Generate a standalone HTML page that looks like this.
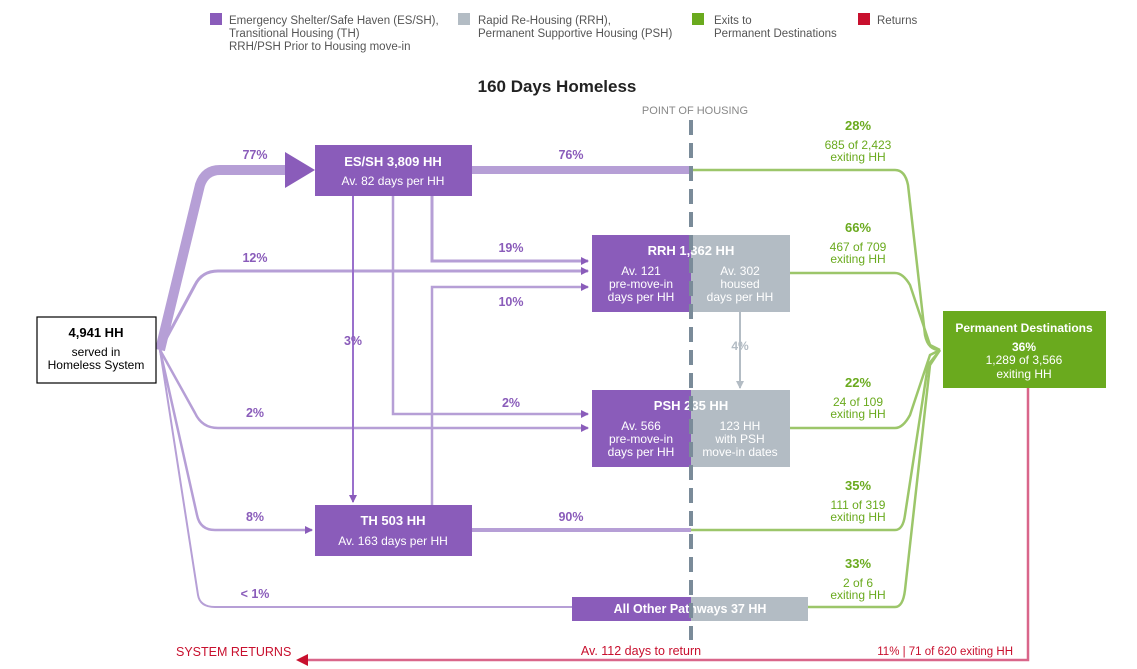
<!DOCTYPE html>
<html><head><meta charset="utf-8"><style>
body{margin:0;background:#fff;}
svg{display:block;font-family:"Liberation Sans",sans-serif;}
</style></head><body>
<svg width="1137" height="669" viewBox="0 0 1137 669">
<defs>
<marker id="ap" markerWidth="8" markerHeight="8" refX="7" refY="4" orient="auto" markerUnits="userSpaceOnUse"><path d="M0,0 L8,4 L0,8z" fill="#8a5cba"/></marker>
<marker id="ag" markerWidth="8" markerHeight="8" refX="7" refY="4" orient="auto" markerUnits="userSpaceOnUse"><path d="M0,0 L8,4 L0,8z" fill="#b3bcc4"/></marker>
</defs>
<!-- legend -->
<g font-size="11.5" fill="#555">
<rect x="210" y="13" width="12" height="12" fill="#8a5cba"/>
<text x="229" y="24">Emergency Shelter/Safe Haven (ES/SH),<tspan x="229" dy="13">Transitional Housing (TH)</tspan><tspan x="229" dy="13">RRH/PSH Prior to Housing move-in</tspan></text>
<rect x="458" y="13" width="12" height="12" fill="#b3bcc4"/>
<text x="478" y="24">Rapid Re-Housing (RRH),<tspan x="478" dy="13">Permanent Supportive Housing (PSH)</tspan></text>
<rect x="692" y="13" width="12" height="12" fill="#6aaa1e"/>
<text x="714" y="24">Exits to<tspan x="714" dy="13">Permanent Destinations</tspan></text>
<rect x="858" y="13" width="12" height="12" fill="#c8102e"/>
<text x="877" y="24">Returns</text>
</g>
<text x="557" y="92" text-anchor="middle" font-size="17" font-weight="bold" fill="#222">160 Days Homeless</text>
<text x="695" y="114" text-anchor="middle" font-size="11" fill="#888">POINT OF HOUSING</text>

<!-- green exit flows -->
<g fill="none" stroke="#9cc66a" stroke-width="2.5">
<path d="M691,170 L895,170 Q905,170 908,185 L925,335 Q928,350 940,350"/>
<path d="M790,273 L895,273 Q903,273 910,285 L930,345 L940,350"/>
<path d="M790,428 L895,428 Q903,428 910,415 L930,355 L940,350"/>
<path d="M691,530 L895,530 Q903,530 905,515 L928,365 L940,350"/>
<path d="M808,607 L895,607 Q903,607 905,590 L930,365 L940,350"/>
</g>
<!-- purple flows -->
<g fill="none" stroke="#b69fd6">
<path d="M160,350 L200,185 Q205,170 220,170 L290,170" stroke-width="10"/>
<path d="M472,170 L691,170" stroke-width="8"/>
<path d="M160,350 L195,285 Q202,271 218,271 L588,271" stroke-width="3" marker-end="url(#ap)"/>
<path d="M160,350 L195,413 Q202,428 218,428 L588,428" stroke-width="2.5" marker-end="url(#ap)"/>
<path d="M160,350 L197,515 Q200,530 215,530 L312,530" stroke-width="2.5" marker-end="url(#ap)"/>
<path d="M160,350 L198,595 Q200,607 215,607 L572,607" stroke-width="2"/>
<path d="M472,530 L691,530" stroke-width="4"/>
<path d="M353,196 L353,502" stroke="#9a70cc" stroke-width="2" marker-end="url(#ap)"/>
<path d="M393,196 L393,414 L588,414" stroke-width="2.5" marker-end="url(#ap)"/>
<path d="M432,196 L432,261 L588,261" stroke-width="3" marker-end="url(#ap)"/>
<path d="M432,505 L432,287 L588,287" stroke-width="2.5" marker-end="url(#ap)"/>
</g>
<path d="M285,152 L315,170 L285,188z" fill="#8a5cba"/>
<path d="M740,312 L740,388" stroke="#b3bcc4" stroke-width="2" marker-end="url(#ag)"/>
<text x="740" y="350" text-anchor="middle" font-size="12" font-weight="bold" fill="#b3bcc4">4%</text>

<!-- returns -->
<path d="M1028,388 L1028,660 L308,660" fill="none" stroke="#d9668a" stroke-width="2.5"/>
<path d="M308,654 L296,660 L308,666z" fill="#c8102e"/>
<g font-size="12.5" fill="#c8102e">
<text x="176" y="656">SYSTEM RETURNS</text>
<text x="641" y="655" text-anchor="middle">Av. 112 days to return</text>
<text x="1013" y="655" text-anchor="end" font-size="11.5">11% | 71 of 620 exiting HH</text>
</g>

<!-- boxes -->
<rect x="37" y="317" width="119" height="66" fill="#fff" stroke="#000" stroke-width="1.2"/>
<g text-anchor="middle" font-size="12" fill="#000">
<text x="96" y="337" font-weight="bold" font-size="13">4,941 HH</text>
<text x="96" y="356">served in</text><text x="96" y="369">Homeless System</text>
</g>
<g><rect x="315" y="145" width="157" height="51" fill="#8a5cba"/>
<text x="393" y="166" text-anchor="middle" fill="#fff" font-size="13" font-weight="bold">ES/SH  3,809 HH</text>
<text x="393" y="185" text-anchor="middle" fill="#fff" font-size="12">Av. 82 days per HH</text></g>
<g><rect x="315" y="505" width="157" height="51" fill="#8a5cba"/>
<text x="393" y="525" text-anchor="middle" fill="#fff" font-size="13" font-weight="bold">TH  503 HH</text>
<text x="393" y="545" text-anchor="middle" fill="#fff" font-size="12">Av. 163 days per HH</text></g>
<g><rect x="592" y="235" width="99" height="77" fill="#8a5cba"/><rect x="691" y="235" width="99" height="77" fill="#b3bcc4"/>
<text x="691" y="255" text-anchor="middle" fill="#fff" font-size="13" font-weight="bold">RRH  1,362 HH</text>
<g text-anchor="middle" fill="#fff" font-size="12"><text x="641" y="275">Av. 121</text><text x="641" y="288">pre-move-in</text><text x="641" y="301">days per HH</text>
<text x="740" y="275">Av. 302</text><text x="740" y="288">housed</text><text x="740" y="301">days per HH</text></g></g>
<g><rect x="592" y="390" width="99" height="77" fill="#8a5cba"/><rect x="691" y="390" width="99" height="77" fill="#b3bcc4"/>
<text x="691" y="410" text-anchor="middle" fill="#fff" font-size="13" font-weight="bold">PSH  235 HH</text>
<g text-anchor="middle" fill="#fff" font-size="12"><text x="641" y="430">Av. 566</text><text x="641" y="443">pre-move-in</text><text x="641" y="456">days per HH</text>
<text x="740" y="430">123 HH</text><text x="740" y="443">with PSH</text><text x="740" y="456">move-in dates</text></g></g>
<g><rect x="572" y="597" width="119" height="24" fill="#8a5cba"/><rect x="691" y="597" width="117" height="24" fill="#b3bcc4"/>
<text x="690" y="613" text-anchor="middle" fill="#fff" font-size="12.5" font-weight="bold">All Other Pathways  37 HH</text></g>
<g><rect x="943" y="311" width="163" height="77" fill="#6aaa1e"/>
<g text-anchor="middle" fill="#fff" font-size="12"><text x="1024" y="332" font-weight="bold">Permanent Destinations</text><text x="1024" y="351" font-weight="bold">36%</text><text x="1024" y="364">1,289 of 3,566</text><text x="1024" y="378">exiting HH</text></g></g>

<!-- dashed point of housing -->
<line x1="691" y1="120" x2="691" y2="640" stroke="#7a8b99" stroke-width="4" stroke-dasharray="15,8"/>

<g id="labels" font-size="12.5" font-weight="bold" fill="#8a5cba" text-anchor="middle"></g>
<g id="glabels" text-anchor="middle" fill="#6aaa1e" font-size="12"></g>
</svg>
<script>
const flowPcts = ["77%","76%","12%","19%","10%","3%","2%","2%","8%","90%","< 1%"];
const flowPos = [[255,159],[571,159],[255,262],[511,252],[511,306],[353,345],[255,417],[511,407],[255,521],[571,521],[255,598]];
const exitPcts = ["28%","66%","22%","35%","33%"];
const exitCounts = ["685 of 2,423","467 of 709","24 of 109","111 of 319","2 of 6"];
const exitY = [130,232,387,490,568];
const NS="http://www.w3.org/2000/svg";
const g=document.getElementById('labels');
flowPcts.forEach((p,i)=>{const t=document.createElementNS(NS,'text');
t.setAttribute('x',flowPos[i][0]);t.setAttribute('y',flowPos[i][1]);t.textContent=p;


g.appendChild(t);});
const gg=document.getElementById('glabels');
exitPcts.forEach((p,i)=>{const y=exitY[i];
[[p,y,true],[exitCounts[i],y+19,false],["exiting HH",y+31,false]].forEach(([s,yy,b])=>{
const t=document.createElementNS(NS,'text');t.setAttribute('x',858);t.setAttribute('y',yy);
if(b){t.setAttribute('font-weight','bold');t.setAttribute('font-size','13');}
t.textContent=s;


gg.appendChild(t);});});
</script>
</body></html>
